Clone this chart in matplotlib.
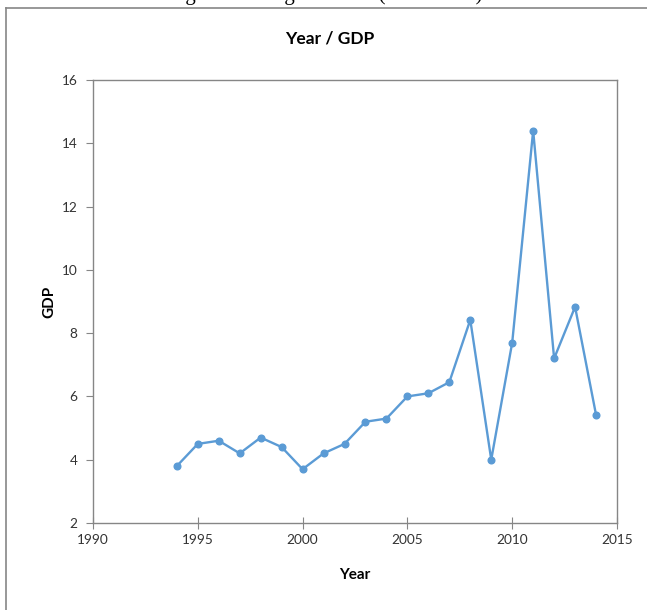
import matplotlib.pyplot as plt
from matplotlib.lines import Line2D

years = [1994, 1995, 1996, 1997, 1998, 1999, 2000, 2001, 2002, 2003, 2004,
         2005, 2006, 2007, 2008, 2009, 2010, 2011, 2012, 2013, 2014]
gdp = [3.8, 4.5, 4.6, 4.2, 4.7, 4.4, 3.7, 4.2, 4.5, 5.2, 5.3,
       6.0, 6.1, 6.45, 8.42, 4.0, 7.7, 14.4, 7.2, 8.83, 5.42]
x_ticks = [1990, 1995, 2000, 2005, 2010, 2015]
y_ticks = [2, 4, 6, 8, 10, 12, 14, 16]

plt.rcParams['font.family'] = ['Lato', 'DejaVu Sans']

fig = plt.figure(figsize=(6.47, 6.10), dpi=100)
ax = fig.add_axes([93/647, 1 - 523/610, (617 - 93)/647, (523 - 80)/610])

ax.plot(years, gdp, color="#5B9BD5", lw=1.7, marker="o", ms=4.8,
        markerfacecolor="#5B9BD5", markeredgecolor="#5B9BD5")

ax.set_xlim(1990, 2015)
ax.set_ylim(2, 16)
ax.set_xticks(x_ticks)
ax.set_yticks(y_ticks)
for s in ax.spines.values():
    s.set_color("#868686")
    s.set_linewidth(1.0)
ax.tick_params(axis="x", direction="inout", length=8, color="#868686",
               labelsize=9.8, labelcolor="#333333", pad=4)
ax.tick_params(axis="y", direction="out", length=5, color="#868686",
               labelsize=9.8, labelcolor="#333333", pad=6)

ax.set_xlabel("Year", fontsize=11, fontweight="bold", labelpad=16)
ax.set_ylabel("GDP", fontsize=11, fontweight="bold", labelpad=4)
fig.text(330/647, 1 - 38/610, "Year / GDP", ha="center", va="center",
         fontsize=12.5, fontweight="bold")

# outer chart frame (partly cut off)
fig.add_artist(Line2D([6/647, 6/647], [0, 1 - 8/610], transform=fig.transFigure,
                      color="#868686", lw=1.2))
fig.add_artist(Line2D([6/647, 1], [1 - 8/610, 1 - 8/610], transform=fig.transFigure,
                      color="#868686", lw=1.2))

# caption above, clipped by the top edge as in the source
fig.text(325/647, 1 + 5/610, "Figure 4: Budget Deficit (1994-2014)", ha="center",
         va="center", fontsize=15, family="Liberation Serif")

fig.savefig("out.png", dpi=100)
